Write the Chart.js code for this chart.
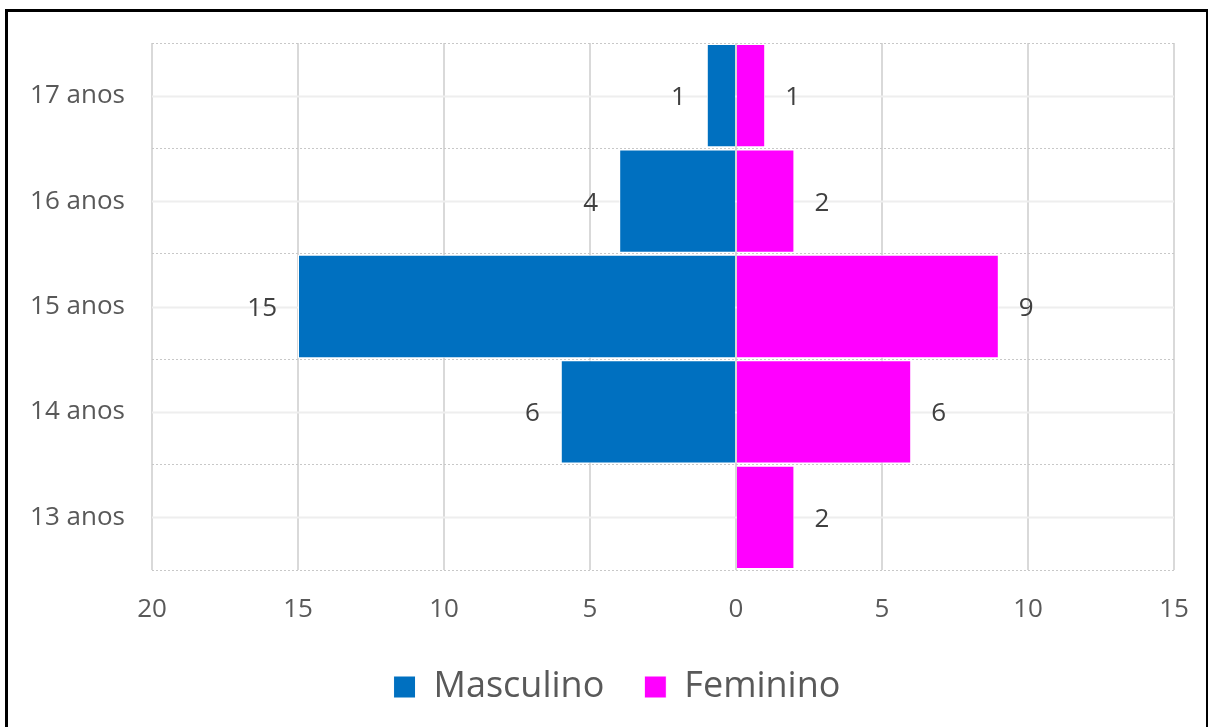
<!DOCTYPE html>
<html>
<head>
<meta charset="utf-8">
<script src="https://cdn.jsdelivr.net/npm/chart.js@4.4.1/dist/chart.umd.min.js"></script>
<style>
  html, body { margin: 0; padding: 0; background: #fff; }
  #wrap { position: relative; width: 1208px; height: 727px; overflow: hidden; }
  #frame { position: absolute; left: 5px; top: 9px; width: 1204px; height: 730px;
           border-top: 3px solid #000; border-left: 3px solid #000; border-right: 3px solid #000; box-sizing: border-box; }
  canvas { position: absolute; left: 0; top: 0; }
</style>
</head>
<body>
<div id="wrap">
  <div id="frame"></div>
  <canvas id="c" width="1208" height="727"></canvas>
</div>
<script>
const categories = ['17 anos', '16 anos', '15 anos', '14 anos', '13 anos'];
const masculino = [1, 4, 15, 6, 0];
const feminino = [1, 2, 9, 6, 2];
const xTicks = [-20, -15, -10, -5, 0, 5, 10, 15];

const FONT = "'Open Sans', 'DejaVu Sans', sans-serif";

const centerLines = {
  id: 'centerLines',
  beforeDatasetsDraw(chart) {
    const { ctx, chartArea, scales } = chart;
    const y = scales.y;
    ctx.save();
    ctx.strokeStyle = '#eeeeee';
    ctx.lineWidth = 2;
    categories.forEach((c, i) => {
      const py = Math.round(y.getPixelForValue(i)) + 0.5;
      ctx.beginPath();
      ctx.moveTo(chartArea.left, py);
      ctx.lineTo(chartArea.right, py);
      ctx.stroke();
    });
    ctx.restore();
  }
};

const dataLabels = {
  id: 'dataLabels',
  afterDatasetsDraw(chart) {
    const { ctx } = chart;
    ctx.save();
    ctx.font = '26px ' + FONT;
    ctx.fillStyle = '#404040';
    ctx.textBaseline = 'middle';
    chart.data.datasets.forEach((ds, di) => {
      const meta = chart.getDatasetMeta(di);
      meta.data.forEach((bar, i) => {
        const v = ds.data[i];
        if (!v) return;
        if (v < 0) { ctx.textAlign = 'right'; ctx.fillText(String(Math.abs(v)), bar.x - 21, bar.y + 2); }
        else { ctx.textAlign = 'left'; ctx.fillText(String(v), bar.x + 20, bar.y + 2); }
      });
    });
    ctx.restore();
  }
};

const legendShift = {
  id: 'legendShift',
  afterLayout(chart) {
    if (chart.legend) { chart.legend.left += 30; chart.legend.right += 30; }
  }
};

new Chart(document.getElementById('c'), {
  type: 'bar',
  data: {
    labels: categories,
    datasets: [
      { label: 'Masculino', data: masculino.map(v => -v), backgroundColor: '#0070C0', borderColor: '#ffffff', borderWidth: 1,
        barPercentage: 1, categoryPercentage: 0.98 },
      { label: 'Feminino', data: feminino, backgroundColor: '#FF00FF', borderColor: '#ffffff', borderWidth: 1,
        barPercentage: 1, categoryPercentage: 0.98 }
    ]
  },
  options: {
    indexAxis: 'y',
    responsive: false,
    animation: false,
    layout: { padding: { top: 43, right: 34, left: 0, bottom: 12 } },
    scales: {
      x: {
        stacked: true,
        min: -20, max: 15,
        afterBuildTicks(scale) { scale.ticks = xTicks.map(v => ({ value: v })); },
        ticks: {
          callback: v => String(Math.abs(v)),
          color: '#595959',
          font: { family: FONT, size: 26 },
          padding: 0,
          maxRotation: 0
        },
        grid: { color: '#d9d9d9', lineWidth: 2, drawTicks: true, tickLength: 24, tickColor: 'rgba(0,0,0,0)' },
        border: { display: false },
        afterFit(scale) { scale.height = 59; }
      },
      y: {
        stacked: true,
        ticks: { color: '#595959', font: { family: FONT, size: 26 }, padding: 27 },
        grid: { offset: true, color: '#c8c8c8', lineWidth: 1, drawTicks: false },
        border: { display: false, dash: [2, 2] },
        afterFit(scale) { scale.width = 152; }
      }
    },
    plugins: {
      legend: {
        position: 'bottom',
        labels: {
          color: '#595959',
          font: { family: FONT, size: 36 },
          boxWidth: 22, boxHeight: 22,
          padding: 40
        }
      },
      tooltip: { enabled: false }
    }
  },
  plugins: [centerLines, dataLabels, legendShift]
});
</script>
</body>
</html>
